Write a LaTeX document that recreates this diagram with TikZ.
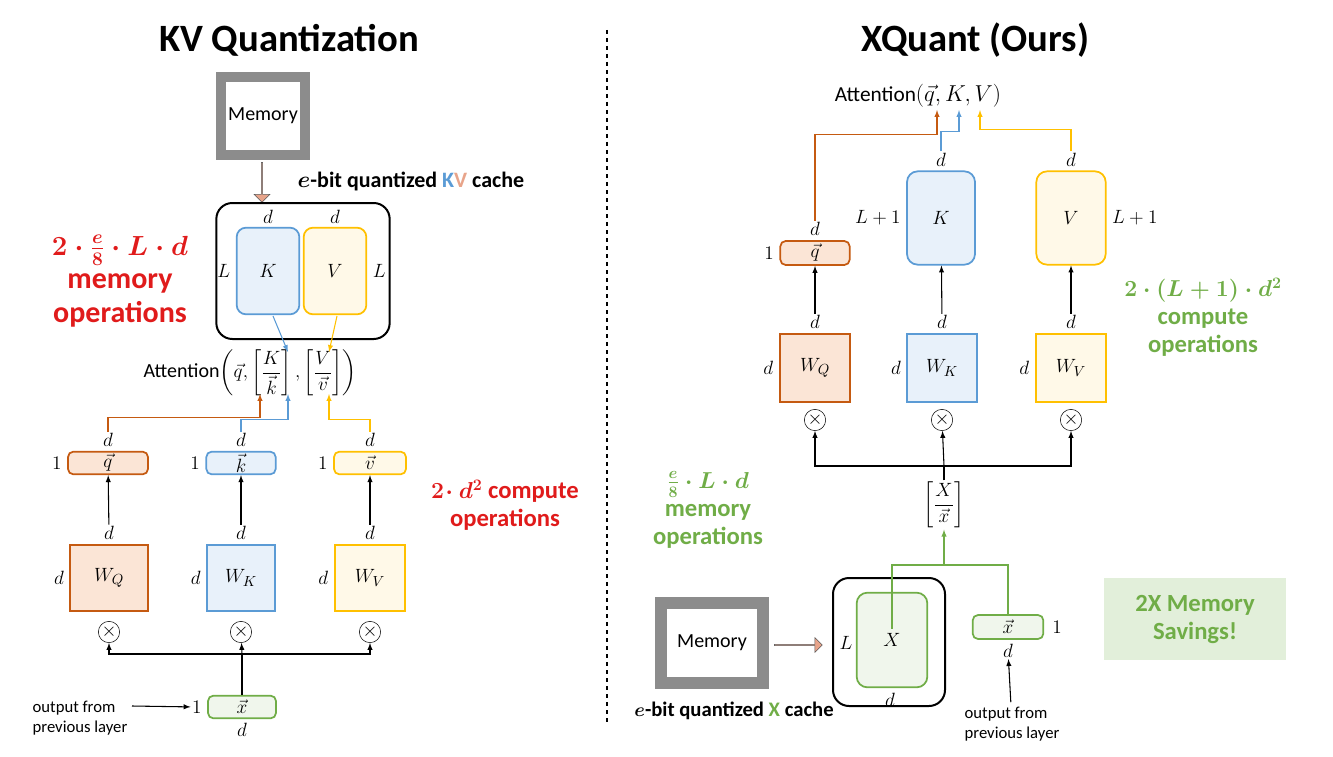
\documentclass[tikz,border=0pt]{standalone}
\usepackage{fontspec}
\setmainfont{Carlito}
\usepackage{amsmath}
\usetikzlibrary{shapes, arrows, calc, positioning}
\definecolor{cq}{HTML}{C55A11}\definecolor{fq}{HTML}{FBE5D6}
\definecolor{ck}{HTML}{5B9BD5}\definecolor{fk}{HTML}{E8F1FA}
\definecolor{cv}{HTML}{FFC000}\definecolor{fv}{HTML}{FFF9E8}
\definecolor{cx}{HTML}{70AD47}\definecolor{fx}{HTML}{F0F6EC}
\definecolor{red1}{HTML}{E01B1B}\definecolor{grn1}{HTML}{70AD47}
\definecolor{memg}{HTML}{8C8C8C}\definecolor{parr}{HTML}{E8A48A}
\begin{document}
\begin{tikzpicture}[x=0.75pt, y=-0.75pt, >=latex]
	\tikzstyle{mat} = [draw=#1, line width=1.3pt, rounded corners=4pt, inner sep=0pt, font=\fontsize{14}{16}\selectfont]
	\tikzstyle{lab} = [inner sep=1pt, font=\fontsize{13.5}{15}\selectfont]
	\tikzstyle{mem} = [draw=memg, fill=white, line width=7.5pt, font=\fontsize{15}{17}\selectfont]
	\tikzstyle{big} = [font=\bfseries\fontsize{18.5}{21}\selectfont, align=center]
	\tikzstyle{otimes} = [circle, draw, inner sep=0pt, minimum size=16pt, font=\Large]
	\tikzstyle{note} = [font=\fontsize{12.5}{15}\selectfont, align=left]
	\tikzstyle{title} = [font=\bfseries\fontsize{29}{32}\selectfont]
	\tikzstyle{fat} = [single arrow, draw=gray!70!black, fill=parr, single arrow head extend=2.5pt, minimum width=12pt, inner sep=0pt]
	\useasboundingbox (0,0) rectangle (1333,756);

	% ---------------- left: KV quantization
	\node[title] (tl) at (289,40) {KV Quantization};
	\node[mem, minimum width=63pt, minimum height=58pt] (meml) at (263,116) {Memory};
	\node[fat, shape border rotate=270, minimum height=30pt] (arl) at (262,182) {};
	\node[anchor=west, font=\bfseries\fontsize{16.5}{18}\selectfont] (cachel) at (293,181) {$\boldsymbol{e}$-bit quantized \textcolor{ck}{K}\textcolor{parr}{V} cache};

	\node[draw, line width=1.5pt, rounded corners=12pt, minimum width=130pt, minimum height=102pt] (kvbox) at (303,271) {};
	\node[mat=ck, fill=fk, rounded corners=7pt, minimum width=47pt, minimum height=65pt] (Kc) at (268,271) {$K$};
	\node[mat=cv, fill=fv, rounded corners=7pt, minimum width=47pt, minimum height=65pt] (Vc) at (335,271) {$V$};
	\node[lab, above=1pt of Kc] (dK) {$d$};
	\node[lab, above=1pt of Vc] (dV) {$d$};
	\node[lab, left=3pt of Kc] (LK) {$L$};
	\node[lab, right=3pt of Vc] (LV) {$L$};

	\node[big, text=red1, font=\bfseries\fontsize{22.5}{25}\selectfont] (memopl) at (120,281) {$\boldsymbol{2\cdot\frac{e}{8}\cdot L\cdot d}$\\memory\\operations};

	\node[font=\fontsize{15}{17}\selectfont] (attl) at (250,373) {Attention$\left(\vec q,\left[\dfrac{K}{\vec k}\right],\left[\dfrac{V}{\vec v}\right]\right)$};
	\coordinate (aq) at (260,394); \coordinate (ak) at (288,394); \coordinate (av) at (329,394);
	\coordinate (aK) at (288,352); \coordinate (aV) at (329,352);
	\coordinate (sK) at (273,316); \coordinate (sV) at (337,316);

	\foreach \n/\x/\w/\c/\f/\s in {q/108/60/cq/fq/q, k/241/52/ck/fk/k, v/370/54/cv/fv/v} {
		\node[mat=\c, fill=\f, minimum width=\w pt, minimum height=17pt] (\n L) at (\x,463) {$\vec{\s}$};
		\node[lab, above=2pt of \n L] (d\n L) {$d$};
		\node[lab, left=3pt of \n L] (one\n L) {$1$};
	}
	\foreach \n/\x/\w/\c/\f/\s in {Q/109/58/cq/fq/Q, K/241/51/ck/fk/K, V/370/53/cv/fv/V} {
		\node[draw=\c, fill=\f, line width=1.3pt, minimum width=\w pt, minimum height=50pt, font=\fontsize{15}{17}\selectfont] (W\n L) at (\x,578) {$W_{\s}$};
		\node[lab, above=2pt of W\n L] (dW\n L) {$d$};
		\node[lab, left=3pt of W\n L] (lW\n L) {$d$};
		\node[otimes] (o\n L) at (\x,632) {$\times$};
	}
	\draw[->, thick] (dWQL) -- (qL);
	\draw[->, thick] (dWKL) -- (kL);
	\draw[->, thick] (dWVL) -- (vL);
	\draw[->, thick, cq] (dqL.north) |- ++(0,-14) -| (aq);
	\draw[->, thick, ck] (dkL.north) |- ++(0,-12) -| (ak);
	\draw[->, thick, cv] (dvL.north) |- ++(0,-12) -| (av);
	\draw[->, thick, ck] (sK) -- (aK);
	\draw[->, thick, cv] (sV) -- (aV);

	\node[mat=cx, fill=fx, minimum width=51pt, minimum height=17pt] (xL) at (242,707) {$\vec x$};
	\node[lab, left=3pt of xL] (onexL) {$1$};
	\node[lab, below=2pt of xL] (dxL) {$d$};
	\coordinate (hL) at (242,654);
	\draw[thick] (xL.north) -- (hL);
	\draw[->, thick] (hL) -- (oKL);
	\draw[->, thick] (hL) -| (oQL);
	\draw[->, thick] (hL) -| (oVL);
	\node[note] (outL) at (80,718) {output from\\previous layer};
	\coordinate (outLa) at (132,706);
	\draw[->, thick] (outLa) -- (onexL);
	\node[big, text=red1] (compl) at (505,505) {$\boldsymbol{2\!\cdot d^2}$ compute\\operations};

	\draw[dashed, line width=1.6pt] (607,30) -- (607,722);

	% ---------------- right: XQuant
	\node[title] (tr) at (975,40) {XQuant (Ours)};
	\node[font=\fontsize{16}{18}\selectfont] (attr) at (918,96) {Attention$(\vec q, K, V)$};
	\coordinate (bq) at (937,110); \coordinate (bk) at (959,110); \coordinate (bv) at (980,110);

	\node[mat=cq, fill=fq, minimum width=52pt, minimum height=18pt] (qR) at (815,253) {$\vec q$};
	\node[lab, above=2pt of qR] (dqR) {$d$};
	\node[lab, left=3pt of qR] (oneqR) {$1$};
	\node[mat=ck, fill=fk, rounded corners=8pt, minimum width=51pt, minimum height=70pt] (KR) at (941,218) {$K$};
	\node[lab, above=2pt of KR] (dKR) {$d$};
	\node[lab, left=3pt of KR] (LKR) {$L+1$};
	\node[mat=cv, fill=fv, rounded corners=8pt, minimum width=52pt, minimum height=70pt] (VR) at (1071,218) {$V$};
	\node[lab, above=2pt of VR] (dVR) {$d$};
	\node[lab, right=3pt of VR] (LVR) {$L+1$};
	\draw[->, thick, cq] (dqR.north) |- ++(0,-86) -| (bq);
	\draw[->, thick, ck] (dKR.north) |- ++(0,-20) -| (bk);
	\draw[->, thick, cv] (dVR.north) |- ++(0,-22) -| (bv);

	\foreach \n/\x/\w/\c/\f/\s in {Q/815/53/cq/fq/Q, K/942/52/ck/fk/K, V/1071/53/cv/fv/V} {
		\node[draw=\c, fill=\f, line width=1.3pt, minimum width=\w pt, minimum height=51pt, font=\fontsize{15}{17}\selectfont] (W\n R) at (\x,368) {$W_{\s}$};
		\node[lab, above=2pt of W\n R] (dW\n R) {$d$};
		\node[lab, left=3pt of W\n R] (lW\n R) {$d$};
		\node[otimes] (o\n R) at (\x,420) {$\times$};
	}
	\draw[->, thick] (dWQR) -- (qR);
	\draw[->, thick] (dWKR) -- (KR);
	\draw[->, thick] (dWVR) -- (VR);

	\node[font=\fontsize{14}{16}\selectfont, inner sep=1pt] (xmat) at (944,505) {$\left[\dfrac{X}{\vec x}\right]$};
	\coordinate (hR) at (944,466);
	\draw[thick] (xmat.north) -- (hR);
	\draw[->, thick] (hR) -- (oKR);
	\draw[->, thick] (hR) -| (oQR);
	\draw[->, thick] (hR) -| (oVR);

	\node[draw, line width=1.5pt, rounded corners=12pt, minimum width=84pt, minimum height=96pt] (xbox) at (889,642) {};
	\node[mat=cx, fill=fx, rounded corners=8pt, minimum width=53pt, minimum height=71pt] (XR) at (892,640) {};
	\node[font=\fontsize{14}{16}\selectfont] (Xt) at (XR) {$X$};
	\node[lab] (LXR) at (846,643) {$L$};
	\node[lab] (dXR) at (890,700) {$d$};
	\node[mem, line width=9pt, minimum width=77pt, minimum height=60pt] (memr) at (712,643) {Memory};
	\node[fat, minimum height=36pt, minimum width=11pt] (arr) at (798,645) {};
	\node[font=\bfseries\fontsize{15.5}{17}\selectfont] (cacher) at (734,711) {$\boldsymbol{e}$-bit quantized \textcolor{grn1}{X} cache};

	\node[mat=cx, fill=fx, minimum width=53pt, minimum height=18pt] (xR) at (1008,627) {$\vec x$};
	\node[lab, right=5pt of xR] (onexR) {$1$};
	\node[lab, below=2pt of xR] (dxR) {$d$};
	\node[note] (outR) at (1012,724) {output from\\previous layer};
	\draw[->, thick] (outR) -- (dxR);
	\coordinate (mR) at (944,565);
	\draw[thick, cx] (Xt.north) |- (mR) -| (xR.north);
	\draw[->, thick, cx] (mR) -- (xmat);

	\node[big, text=grn1] (memopr) at (708,510) {$\boldsymbol{\frac{e}{8}\cdot L\cdot d}$\\memory\\operations};
	\node[big, text=grn1] (compr) at (1203,317) {$\boldsymbol{2\cdot(L+1)\cdot d^2}$\\compute\\operations};
	\node[big, text=grn1, fill=grn1!20, minimum width=136pt, minimum height=62pt] (save) at (1195,619) {2X Memory\\Savings!};
\end{tikzpicture}
\end{document}
